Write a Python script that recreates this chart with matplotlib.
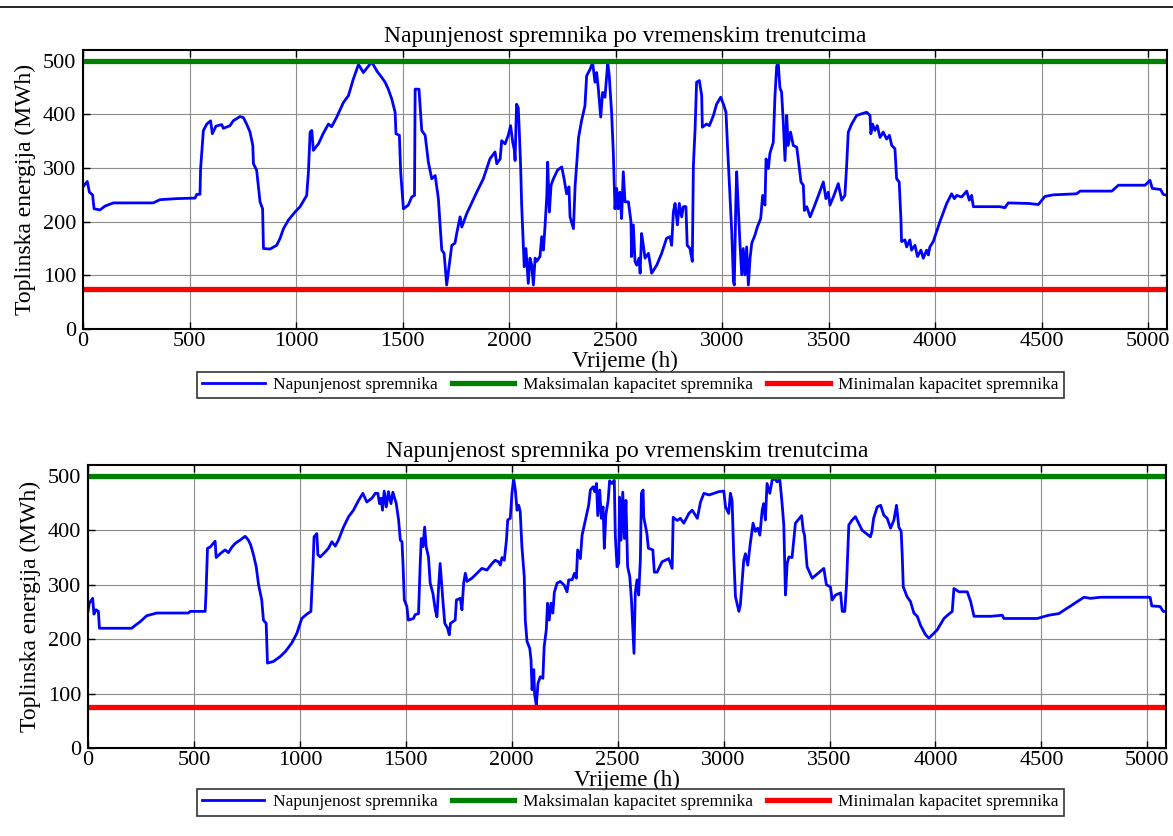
import matplotlib
matplotlib.use("Agg")
import matplotlib.pyplot as plt
from matplotlib.lines import Line2D

plt.rcParams['font.family'] = ['Liberation Serif', 'DejaVu Serif']

# kapaciteti spremnika (MWh)
max_kap = 500
min_kap = 75

# gornji graf
gore_t = [0, 20, 30, 45, 52, 80, 103, 142, 330, 361,
          440, 526, 534, 549, 552, 565, 581, 599, 607, 624,
          651, 659, 690, 705, 737, 753, 768, 784, 797, 800,
          815, 831, 843, 847, 878, 909, 925, 941, 964, 995,
          1019, 1050, 1058, 1066, 1074, 1081, 1105, 1127, 1152, 1167,
          1191, 1222, 1246, 1269, 1293, 1316, 1340, 1355, 1379, 1402,
          1418, 1433, 1449, 1465, 1469, 1485, 1491, 1504, 1527, 1543,
          1556, 1559, 1577, 1590, 1606, 1621, 1637, 1653, 1668, 1684,
          1695, 1707, 1715, 1731, 1746, 1754, 1770, 1778, 1801, 1848,
          1879, 1910, 1934, 1942, 1958, 1965, 1981, 1996, 2007, 2017,
          2025, 2028, 2035, 2043, 2048, 2054, 2059, 2067, 2071, 2079,
          2090, 2098, 2106, 2114, 2122, 2129, 2145, 2153, 2161, 2169,
          2177, 2181, 2189, 2197, 2208, 2227, 2247, 2258, 2270, 2281,
          2286, 2302, 2310, 2318, 2326, 2340, 2356, 2364, 2380, 2392,
          2403, 2411, 2419, 2430, 2439, 2450, 2463, 2470, 2481, 2489,
          2497, 2505, 2512, 2520, 2528, 2536, 2544, 2560, 2572, 2575,
          2583, 2591, 2599, 2610, 2615, 2622, 2630, 2638, 2654, 2669,
          2693, 2716, 2739, 2755, 2763, 2771, 2779, 2790, 2799, 2810,
          2818, 2830, 2836, 2849, 2860, 2865, 2873, 2880, 2893, 2904,
          2907, 2927, 2940, 2959, 2974, 2993, 3006, 3018, 3025, 3034,
          3045, 3053, 3057, 3064, 3068, 3076, 3084, 3092, 3099, 3107,
          3115, 3123, 3131, 3139, 3154, 3165, 3181, 3190, 3201, 3206,
          3217, 3224, 3240, 3248, 3256, 3263, 3271, 3279, 3287, 3295,
          3303, 3310, 3321, 3334, 3350, 3357, 3370, 3381, 3386, 3397,
          3413, 3428, 3452, 3475, 3487, 3498, 3506, 3522, 3545, 3561,
          3576, 3584, 3592, 3608, 3631, 3655, 3678, 3694, 3698, 3706,
          3717, 3728, 3741, 3756, 3772, 3785, 3796, 3811, 3819, 3831,
          3839, 3842, 3858, 3866, 3881, 3889, 3905, 3917, 3933, 3944,
          3960, 3968, 3975, 3991, 4022, 4054, 4077, 4090, 4101, 4124,
          4148, 4160, 4171, 4179, 4304, 4327, 4343, 4437, 4484, 4515,
          4554, 4664, 4680, 4829, 4860, 4985, 5008, 5019, 5058, 5070,
          5088]
gore_e = [265, 275, 255, 250, 224, 222, 229, 235, 235, 241,
          243, 244, 251, 251, 299, 370, 382, 388, 364, 378,
          381, 374, 379, 388, 396, 394, 382, 367, 342, 308,
          296, 237, 224, 150, 149, 156, 169, 187, 203, 218,
          228, 249, 292, 367, 370, 333, 345, 364, 382, 377,
          395, 422, 435, 466, 493, 478, 490, 498, 481, 469,
          460, 447, 429, 404, 364, 361, 293, 224, 231, 246,
          249, 447, 447, 370, 361, 311, 280, 286, 243, 147,
          141, 82, 107, 156, 160, 178, 209, 190, 215, 255,
          280, 317, 330, 308, 317, 351, 345, 361, 379, 348,
          333, 314, 419, 413, 367, 305, 231, 156, 116, 150,
          85, 132, 119, 82, 132, 126, 135, 172, 147, 194,
          249, 311, 218, 268, 280, 296, 302, 280, 252, 265,
          209, 187, 268, 311, 357, 388, 416, 472, 484, 497,
          460, 478, 447, 395, 441, 432, 497, 472, 404, 330,
          224, 262, 224, 255, 206, 293, 237, 237, 200, 135,
          194, 126, 119, 132, 104, 178, 156, 132, 141, 104,
          119, 141, 169, 172, 156, 218, 234, 194, 234, 209,
          228, 228, 156, 150, 126, 305, 373, 460, 463, 435,
          376, 382, 379, 398, 419, 432, 419, 404, 342, 268,
          181, 88, 82, 231, 293, 224, 156, 101, 150, 101,
          153, 82, 132, 160, 175, 190, 206, 249, 231, 317,
          299, 327, 348, 435, 490, 497, 450, 441, 385, 314,
          398, 342, 367, 342, 339, 317, 274, 268, 221, 228,
          209, 224, 249, 274, 243, 255, 231, 246, 271, 240,
          249, 302, 367, 382, 398, 401, 404, 398, 364, 382,
          370, 379, 357, 367, 354, 361, 342, 336, 280, 274,
          206, 163, 166, 153, 166, 147, 156, 135, 147, 132,
          147, 138, 153, 163, 200, 234, 252, 243, 249, 246,
          257, 240, 249, 228, 228, 226, 235, 234, 232, 247,
          250, 252, 257, 257, 268, 268, 277, 262, 260, 251,
          249]

# donji graf
dolje_t = [0, 6, 22, 28, 38, 49, 54, 206, 222, 246,
           277, 324, 474, 482, 553, 557, 564, 576, 600, 605,
           624, 647, 663, 679, 695, 718, 742, 757, 768, 781,
           794, 805, 820, 828, 841, 847, 875, 907, 931, 962,
           986, 1009, 1033, 1052, 1061, 1067, 1080, 1085, 1096, 1119,
           1135, 1151, 1167, 1182, 1206, 1230, 1253, 1277, 1297, 1316,
           1340, 1356, 1368, 1376, 1384, 1390, 1398, 1408, 1418, 1430,
           1439, 1455, 1466, 1474, 1482, 1486, 1493, 1505, 1512, 1536,
           1544, 1560, 1568, 1573, 1581, 1589, 1596, 1607, 1615, 1628,
           1639, 1647, 1654, 1662, 1670, 1676, 1684, 1697, 1705, 1711,
           1733, 1739, 1757, 1765, 1773, 1781, 1789, 1812, 1836, 1859,
           1883, 1907, 1922, 1938, 1946, 1954, 1965, 1975, 1981, 1993,
           2001, 2009, 2017, 2025, 2033, 2040, 2048, 2059, 2064, 2072,
           2085, 2091, 2096, 2104, 2108, 2116, 2124, 2135, 2147, 2153,
           2163, 2169, 2177, 2185, 2194, 2201, 2214, 2229, 2248, 2261,
           2269, 2285, 2296, 2305, 2311, 2324, 2332, 2348, 2363, 2371,
           2384, 2392, 2400, 2406, 2415, 2423, 2431, 2437, 2444, 2455,
           2462, 2473, 2484, 2489, 2497, 2505, 2509, 2516, 2524, 2532,
           2539, 2547, 2557, 2565, 2572, 2577, 2583, 2591, 2599, 2607,
           2612, 2620, 2623, 2638, 2645, 2666, 2673, 2686, 2709, 2741,
           2757, 2762, 2781, 2796, 2812, 2836, 2852, 2876, 2891, 2907,
           2931, 2955, 2977, 3001, 3009, 3024, 3032, 3040, 3048, 3056,
           3067, 3072, 3079, 3087, 3095, 3103, 3114, 3126, 3139, 3150,
           3161, 3171, 3182, 3189, 3197, 3205, 3218, 3229, 3240, 3253,
           3265, 3276, 3284, 3292, 3300, 3308, 3323, 3339, 3368, 3376,
           3382, 3394, 3418, 3473, 3485, 3504, 3513, 3528, 3552, 3560,
           3572, 3580, 3591, 3607, 3622, 3654, 3693, 3700, 3708, 3725,
           3741, 3756, 3772, 3788, 3804, 3816, 3827, 3838, 3843, 3848,
           3866, 3882, 3898, 3914, 3930, 3953, 3969, 3985, 4008, 4040,
           4063, 4079, 4087, 4111, 4150, 4166, 4182, 4262, 4315, 4323,
           4480, 4535, 4583, 4606, 4646, 4669, 4701, 4732, 4779, 4945,
           5013, 5021, 5060, 5075, 5088]
dolje_e = [251, 266, 275, 246, 254, 251, 220, 220, 225, 232,
           243, 248, 248, 251, 251, 284, 367, 369, 380, 350,
           357, 364, 359, 369, 376, 382, 389, 382, 373, 355,
           333, 300, 272, 235, 229, 156, 159, 168, 177, 193,
           211, 238, 246, 251, 327, 388, 394, 355, 351, 360,
           367, 379, 371, 382, 406, 425, 437, 455, 468, 452,
           459, 468, 468, 449, 459, 437, 472, 443, 471, 449,
           470, 449, 419, 382, 379, 345, 272, 260, 235, 238,
           245, 247, 339, 385, 370, 406, 370, 351, 303, 284,
           254, 241, 290, 339, 296, 266, 229, 220, 208, 229,
           235, 272, 275, 254, 303, 321, 306, 312, 321, 330,
           327, 339, 345, 342, 336, 350, 345, 382, 419, 422,
           468, 495, 474, 437, 446, 434, 370, 315, 235, 196,
           183, 162, 107, 144, 98, 79, 119, 131, 128, 186,
           217, 266, 235, 266, 248, 286, 303, 306, 299, 287,
           309, 309, 321, 312, 364, 348, 391, 419, 446, 474,
           480, 471, 486, 427, 474, 422, 443, 367, 428, 455,
           491, 486, 492, 388, 333, 339, 461, 382, 470, 385,
           455, 333, 315, 272, 217, 174, 284, 309, 281, 345,
           468, 474, 424, 394, 367, 364, 323, 323, 342, 348,
           330, 424, 418, 422, 413, 431, 437, 422, 452, 468,
           465, 468, 471, 472, 443, 431, 468, 455, 351, 278,
           260, 251, 263, 303, 345, 357, 336, 376, 413, 398,
           404, 391, 437, 449, 419, 486, 468, 492, 495, 489,
           495, 449, 410, 281, 339, 351, 350, 413, 427, 399,
           391, 333, 312, 330, 300, 296, 272, 281, 285, 251,
           251, 300, 410, 419, 425, 400, 388, 398, 422, 443,
           446, 428, 422, 404, 419, 446, 406, 398, 355, 296,
           278, 269, 248, 242, 225, 208, 202, 208, 217, 238,
           246, 251, 293, 287, 287, 269, 242, 242, 244, 238,
           238, 244, 247, 253, 263, 269, 277, 275, 277, 277,
           277, 261, 260, 251, 251]

t_kraj = 5088
x_ticks = list(range(0, 5001, 500))
y_ticks = list(range(0, 501, 100))

fig = plt.figure(figsize=(11.73, 8.36), dpi=100)

# rub stranice na vrhu
fig.add_artist(Line2D([0, 1], [1 - 7 / 836] * 2, color='black', lw=1.2))


def nacrtaj(ax, t, e, leg_x, leg_y):
    ax.plot(t, e, color='blue', lw=2.0, label='Napunjenost spremnika')
    ax.plot([0, t_kraj], [max_kap, max_kap], color='green', lw=3.8,
            label='Maksimalan kapacitet spremnika')
    ax.plot([0, t_kraj], [min_kap, min_kap], color='red', lw=3.8,
            label='Minimalan kapacitet spremnika')
    ax.set_xlim(0, t_kraj)
    ax.set_ylim(0, 520)
    ax.set_xticks(x_ticks)
    ax.set_yticks(y_ticks)
    ax.grid(True, color='0.55', lw=0.8)
    ax.tick_params(direction='in', top=True, right=True, labelsize=16,
                   length=5, width=1)
    ax.tick_params(axis='x', pad=2)
    ax.tick_params(axis='y', pad=5)
    for s in ax.spines.values():
        s.set_linewidth(1.5)
    ax.set_title('Napunjenost spremnika po vremenskim trenutcima',
                 fontsize=17, pad=6)
    ax.set_xlabel('Vrijeme (h)', fontsize=16.5, labelpad=0)
    ax.set_ylabel('Toplinska energija (MWh)', fontsize=17, labelpad=5)
    leg = ax.legend(loc='center', bbox_to_anchor=(leg_x, leg_y), ncol=3,
                    fontsize=12.5, frameon=True, fancybox=False,
                    edgecolor='black', handlelength=3.6, borderpad=0.3,
                    columnspacing=0.8, handletextpad=0.5)
    leg.get_frame().set_linewidth(1.2)


ax1 = fig.add_axes([83 / 1173, 1 - 329 / 836, 1084 / 1173, 279 / 836])
nacrtaj(ax1, gore_t, gore_e, 0.505, -0.200)

ax2 = fig.add_axes([88 / 1173, 1 - 748 / 836, 1078 / 1173, 283 / 836])
nacrtaj(ax2, dolje_t, dolje_e, 0.503, -0.192)

fig.savefig('out.png', dpi=100)
